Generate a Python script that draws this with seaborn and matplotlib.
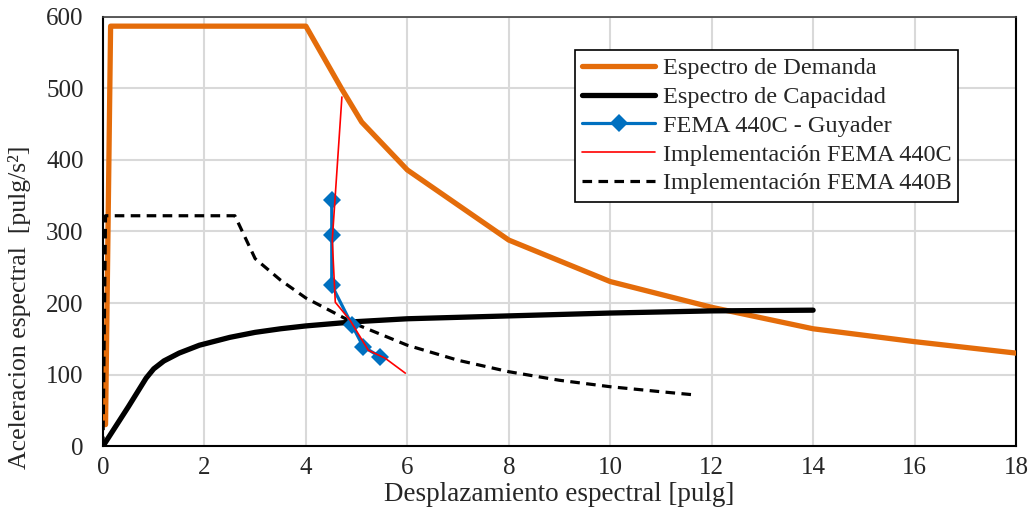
import pandas as pd
import seaborn as sns
import matplotlib.pyplot as plt

# Espectro de Demanda
dem_x = [0.05, 0.15, 4.0, 4.7, 5.1, 6.0, 8.0, 10.0, 12.0, 14.0, 16.0, 18.0]
dem_y = [30, 587, 587, 500, 453, 386, 288, 230, 194, 164, 146, 130]

# Espectro de Capacidad
cap_x = [0.0, 0.5, 0.85, 1.0, 1.2, 1.5, 1.9, 2.5, 3.0, 3.5, 4.0, 5.0, 6.0, 8.0, 10.0, 12.0, 14.0]
cap_y = [0, 55, 95, 108, 119, 130, 141, 152, 159, 164, 168, 174, 178, 182, 186, 189, 190]

# FEMA 440C - Guyader
guy_x = [4.51, 4.51, 4.51, 4.91, 5.13, 5.46]
guy_y = [344, 295, 225, 169, 139, 125]

# Implementacion FEMA 440C
imp_c_x = [4.71, 4.52, 4.58, 4.87, 5.23, 5.56, 5.96]
imp_c_y = [488, 288, 201, 176, 134, 123, 102]

# Implementacion FEMA 440B
imp_b_x = [0.0, 0.05, 2.6, 3.0, 3.5, 4.0, 5.0, 6.0, 7.0, 8.0, 9.0, 10.0, 11.0, 11.6]
imp_b_y = [0, 322, 322, 262, 232, 207, 170, 141, 120, 104, 92, 83, 76, 72]

sns.set_theme(style="whitegrid")
plt.rcParams['font.family'] = ['Liberation Serif', 'DejaVu Serif']
plt.rcParams['grid.color'] = '#d9d9d9'
plt.rcParams['grid.linewidth'] = 1.5

fig = plt.figure(figsize=(10.32, 5.11), dpi=100)
ax = fig.add_axes([0.0998, 0.127, 0.8847, 0.840])

series = [
    (dem_x, dem_y, 'Espectro de Demanda', dict(color='#E46C0A', linewidth=3.8, zorder=3)),
    (cap_x, cap_y, 'Espectro de Capacidad', dict(color='black', linewidth=3.8, zorder=4)),
    (guy_x, guy_y, 'FEMA 440C - Guyader', dict(color='#0070C0', linewidth=2.3, marker='D',
                                                markersize=9, markeredgewidth=0, zorder=6)),
    (imp_c_x, imp_c_y, 'Implementación FEMA 440C', dict(color='#FF0000', linewidth=1.2, zorder=7)),
    (imp_b_x, imp_b_y, 'Implementación FEMA 440B', dict(color='black', linewidth=2.3,
                                                      linestyle=(0, (3, 2)), zorder=5)),
]
for xs, ys, name, kw in series:
    df = pd.DataFrame({'x': xs, 'y': ys})
    sns.lineplot(data=df, x='x', y='y', sort=False, estimator=None, label=name, ax=ax, **kw)

ax.set_xlim(0, 18)
ax.set_ylim(0, 600)
ax.set_xticks(range(0, 19, 2))
ax.set_yticks(range(0, 601, 100))
ax.tick_params(axis='both', labelsize=18, length=0)
ax.tick_params(axis='x', pad=8)
ax.tick_params(axis='y', pad=14)
ax.set_xlabel('Desplazamiento espectral [pulg]', fontsize=19.5)
ax.xaxis.set_label_coords(0.4995, -0.112)
ax.xaxis.label.set_va('center')
ax.set_ylabel('Aceleracion espectral  [pulg/s²]', fontsize=18.5)
ax.yaxis.set_label_coords(-0.091, 0.324)
ax.yaxis.label.set_va('center')

for side in ['left', 'bottom', 'right']:
    ax.spines[side].set_color('black')
    ax.spines[side].set_linewidth(1.5)
ax.spines['top'].set_color('#404040')
ax.spines['top'].set_linewidth(1.2)

leg = ax.legend(loc='upper left', bbox_to_anchor=(0.517, 0.923), borderaxespad=0,
                fontsize=17.5, frameon=True, fancybox=False, framealpha=1, edgecolor='black',
                handlelength=3.0, borderpad=0.3, labelspacing=0.28, handletextpad=0.3)
leg.get_frame().set_linewidth(1.2)

fig.savefig('out.png', dpi=100)
